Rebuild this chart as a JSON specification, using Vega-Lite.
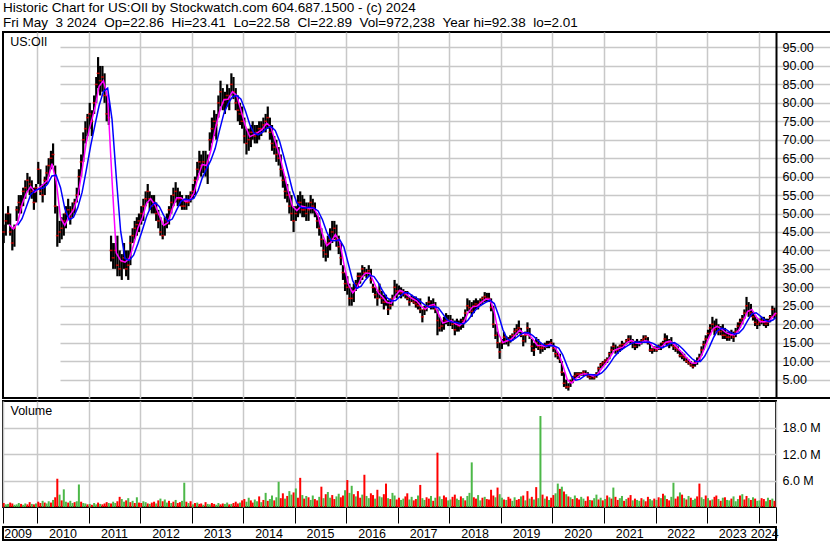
{
  "$schema": "https://vega.github.io/schema/vega-lite/v6.json",
  "background": "white",
  "padding": {"left": 1, "top": 0, "right": 0, "bottom": 0},
  "spacing": 1,
  "config": {
    "font": "Liberation Sans",
    "view": {"stroke": "black", "strokeWidth": 2},
    "axis": {"gridColor": "#c8c8c8", "gridWidth": 1.5, "labelFont": "Liberation Sans", "labelFontSize": 12.5, "labelColor": "black", "title": null, "labelOverlap": false},
    "title": {"font": "Liberation Sans", "fontWeight": "normal", "color": "black"}
  },
  "title": {
    "text": ["Historic Chart for US:OIl by Stockwatch.com 604.687.1500 - (c) 2024", "Fri May\u00a0\u00a03 2024\u00a0\u00a0Op=22.86\u00a0\u00a0Hi=23.41\u00a0\u00a0Lo=22.58\u00a0\u00a0Cl=22.89\u00a0\u00a0Vol=972,238\u00a0\u00a0Year hi=92.38\u00a0\u00a0lo=2.01"],
    "anchor": "start", "fontSize": 13.5, "lineHeight": 15, "offset": 2, "frame": "group"
  },
  "datasets": {
    "p": [
      {"d":"2009-05-08","h":47,"l":42,"c":45},{"d":"2009-05-23","h":50,"l":44,"c":48},
      {"d":"2009-06-08","h":52,"l":47,"c":50},{"d":"2009-06-23","h":50,"l":44,"c":45},
      {"d":"2009-07-08","h":46,"l":40,"c":42},{"d":"2009-07-23","h":47,"l":41,"c":46},
      {"d":"2009-08-08","h":52,"l":48,"c":51},{"d":"2009-08-23","h":55,"l":50,"c":53},
      {"d":"2009-09-08","h":55,"l":50,"c":52},{"d":"2009-09-23","h":57,"l":52,"c":56},
      {"d":"2009-10-08","h":59,"l":54,"c":57},{"d":"2009-10-23","h":61,"l":56,"c":59},
      {"d":"2009-11-08","h":60,"l":55,"c":58},{"d":"2009-11-23","h":59,"l":54,"c":56},
      {"d":"2009-12-08","h":57,"l":51,"c":53},{"d":"2009-12-23","h":58,"l":53,"c":57},
      {"d":"2010-01-08","h":64,"l":58,"c":62},{"d":"2010-01-23","h":62,"l":55,"c":56},
      {"d":"2010-02-08","h":58,"l":53,"c":55},{"d":"2010-02-23","h":60,"l":55,"c":59},
      {"d":"2010-03-08","h":63,"l":58,"c":61},{"d":"2010-03-23","h":65,"l":60,"c":63},
      {"d":"2010-04-08","h":67,"l":62,"c":65},{"d":"2010-04-23","h":69,"l":63,"c":66},
      {"d":"2010-05-08","h":63,"l":50,"c":52},{"d":"2010-05-23","h":52,"l":41,"c":44},
      {"d":"2010-06-08","h":48,"l":42,"c":45},{"d":"2010-06-23","h":49,"l":43,"c":46},
      {"d":"2010-07-08","h":50,"l":44,"c":48},{"d":"2010-07-23","h":52,"l":46,"c":50},
      {"d":"2010-08-08","h":54,"l":49,"c":51},{"d":"2010-08-23","h":52,"l":47,"c":49},
      {"d":"2010-09-08","h":53,"l":49,"c":51},{"d":"2010-09-23","h":54,"l":50,"c":53},
      {"d":"2010-10-08","h":57,"l":53,"c":55},{"d":"2010-10-23","h":62,"l":55,"c":60},
      {"d":"2010-11-08","h":66,"l":60,"c":64},{"d":"2010-11-23","h":72,"l":64,"c":70},
      {"d":"2010-12-08","h":75,"l":69,"c":73},{"d":"2010-12-23","h":77,"l":71,"c":76},
      {"d":"2011-01-08","h":80,"l":73,"c":77},{"d":"2011-01-23","h":78,"l":71,"c":75},
      {"d":"2011-02-08","h":82,"l":77,"c":80},{"d":"2011-02-23","h":87,"l":80,"c":85},
      {"d":"2011-03-08","h":92.4,"l":84,"c":88},{"d":"2011-03-23","h":90,"l":82,"c":86},
      {"d":"2011-04-08","h":90,"l":83,"c":87},{"d":"2011-04-23","h":88,"l":80,"c":82},
      {"d":"2011-05-08","h":82,"l":75,"c":77},{"d":"2011-05-23","h":80,"l":74,"c":76},
      {"d":"2011-06-08","h":44,"l":37,"c":40},{"d":"2011-06-23","h":42,"l":35,"c":38},
      {"d":"2011-07-08","h":42,"l":35,"c":40},{"d":"2011-07-23","h":44,"l":33,"c":36},
      {"d":"2011-08-08","h":40,"l":33,"c":35},{"d":"2011-08-23","h":39,"l":32,"c":37},
      {"d":"2011-09-08","h":42,"l":35,"c":38},{"d":"2011-09-23","h":40,"l":33,"c":35},
      {"d":"2011-10-08","h":40,"l":32,"c":36},{"d":"2011-10-23","h":44,"l":36,"c":42},
      {"d":"2011-11-08","h":46,"l":42,"c":44},{"d":"2011-11-23","h":48,"l":43,"c":46},
      {"d":"2011-12-08","h":49,"l":44,"c":47},{"d":"2011-12-23","h":50,"l":45,"c":48},
      {"d":"2012-01-08","h":52,"l":47,"c":50},{"d":"2012-01-23","h":54,"l":48,"c":52},
      {"d":"2012-02-08","h":56,"l":52,"c":54},{"d":"2012-02-23","h":58,"l":53,"c":56},
      {"d":"2012-03-08","h":56,"l":51,"c":54},{"d":"2012-03-23","h":55,"l":50,"c":52},
      {"d":"2012-04-08","h":55,"l":50,"c":53},{"d":"2012-04-23","h":53,"l":48,"c":50},
      {"d":"2012-05-08","h":51,"l":46,"c":48},{"d":"2012-05-23","h":49,"l":44,"c":45},
      {"d":"2012-06-08","h":47,"l":43,"c":44},{"d":"2012-06-23","h":49,"l":44,"c":47},
      {"d":"2012-07-08","h":50,"l":46,"c":48},{"d":"2012-07-23","h":52,"l":47,"c":51},
      {"d":"2012-08-08","h":55,"l":50,"c":53},{"d":"2012-08-23","h":57,"l":52,"c":55},
      {"d":"2012-09-08","h":58.5,"l":53,"c":56},{"d":"2012-09-23","h":57,"l":52,"c":54},
      {"d":"2012-10-08","h":56,"l":52,"c":54},{"d":"2012-10-23","h":55,"l":51,"c":52},
      {"d":"2012-11-08","h":54,"l":51,"c":52},{"d":"2012-11-23","h":55,"l":51,"c":53},
      {"d":"2012-12-08","h":55,"l":52,"c":53},{"d":"2012-12-23","h":56,"l":53,"c":55},
      {"d":"2013-01-08","h":58,"l":54,"c":56},{"d":"2013-01-23","h":60,"l":55,"c":59},
      {"d":"2013-02-08","h":64,"l":59,"c":62},{"d":"2013-02-23","h":67,"l":61,"c":64},
      {"d":"2013-03-08","h":66,"l":60,"c":63},{"d":"2013-03-23","h":67,"l":61,"c":64},
      {"d":"2013-04-08","h":67,"l":60,"c":62},{"d":"2013-04-23","h":66,"l":58,"c":64},
      {"d":"2013-05-08","h":72,"l":67,"c":70},{"d":"2013-05-23","h":76,"l":69,"c":73},
      {"d":"2013-06-08","h":78,"l":71,"c":75},{"d":"2013-06-23","h":77,"l":70,"c":74},
      {"d":"2013-07-08","h":82,"l":76,"c":80},{"d":"2013-07-23","h":86,"l":79,"c":83},
      {"d":"2013-08-08","h":84,"l":78,"c":80},{"d":"2013-08-23","h":83,"l":77,"c":81},
      {"d":"2013-09-08","h":85,"l":79,"c":82},{"d":"2013-09-23","h":84,"l":78,"c":81},
      {"d":"2013-10-08","h":88,"l":82,"c":85},{"d":"2013-10-23","h":87,"l":81,"c":83},
      {"d":"2013-11-08","h":84,"l":78,"c":80},{"d":"2013-11-23","h":82,"l":75,"c":78},
      {"d":"2013-12-08","h":80,"l":74,"c":77},{"d":"2013-12-23","h":79,"l":73,"c":75},
      {"d":"2014-01-08","h":76,"l":69,"c":71},{"d":"2014-01-23","h":73,"l":66,"c":69},
      {"d":"2014-02-08","h":73,"l":67,"c":70},{"d":"2014-02-23","h":74,"l":68,"c":72},
      {"d":"2014-03-08","h":75,"l":70,"c":72},{"d":"2014-03-23","h":74,"l":69,"c":71},
      {"d":"2014-04-08","h":74,"l":69,"c":72},{"d":"2014-04-23","h":75,"l":70,"c":73},
      {"d":"2014-05-08","h":75,"l":71,"c":73},{"d":"2014-05-23","h":76,"l":72,"c":74},
      {"d":"2014-06-08","h":77,"l":72,"c":75},{"d":"2014-06-23","h":79,"l":73,"c":76},
      {"d":"2014-07-08","h":76,"l":70,"c":72},{"d":"2014-07-23","h":74,"l":67,"c":69},
      {"d":"2014-08-08","h":71,"l":66,"c":68},{"d":"2014-08-23","h":70,"l":64,"c":66},
      {"d":"2014-09-08","h":68,"l":63,"c":65},{"d":"2014-09-23","h":66,"l":60,"c":62},
      {"d":"2014-10-08","h":62,"l":57,"c":59},{"d":"2014-10-23","h":60,"l":54,"c":56},
      {"d":"2014-11-08","h":58,"l":53,"c":55},{"d":"2014-11-23","h":56,"l":50,"c":52},
      {"d":"2014-12-08","h":55,"l":48,"c":50},{"d":"2014-12-23","h":52,"l":45,"c":48},
      {"d":"2015-01-08","h":52,"l":48,"c":50},{"d":"2015-01-23","h":55,"l":49,"c":53},
      {"d":"2015-02-08","h":56,"l":50,"c":53},{"d":"2015-02-23","h":55,"l":49,"c":51},
      {"d":"2015-03-08","h":54,"l":49,"c":51},{"d":"2015-03-23","h":53,"l":48,"c":50},
      {"d":"2015-04-08","h":53,"l":48,"c":51},{"d":"2015-04-23","h":55,"l":50,"c":53},
      {"d":"2015-05-08","h":54,"l":50,"c":52},{"d":"2015-05-23","h":53,"l":49,"c":51},
      {"d":"2015-06-08","h":50,"l":46,"c":48},{"d":"2015-06-23","h":49,"l":44,"c":46},
      {"d":"2015-07-08","h":46,"l":41,"c":43},{"d":"2015-07-23","h":43,"l":38,"c":40},
      {"d":"2015-08-08","h":42,"l":37,"c":39},{"d":"2015-08-23","h":44,"l":38,"c":42},
      {"d":"2015-09-08","h":46,"l":40,"c":43},{"d":"2015-09-23","h":48,"l":42,"c":45},
      {"d":"2015-10-08","h":48,"l":43,"c":46},{"d":"2015-10-23","h":47,"l":41,"c":43},
      {"d":"2015-11-08","h":44,"l":39,"c":41},{"d":"2015-11-23","h":42,"l":36,"c":38},
      {"d":"2015-12-08","h":36,"l":32,"c":34},{"d":"2015-12-23","h":34,"l":29,"c":31},
      {"d":"2016-01-08","h":33,"l":28,"c":30},{"d":"2016-01-23","h":31,"l":25,"c":27},
      {"d":"2016-02-08","h":30,"l":25,"c":27},{"d":"2016-02-23","h":31,"l":26,"c":29},
      {"d":"2016-03-08","h":32,"l":29,"c":31},{"d":"2016-03-23","h":34,"l":30,"c":33},
      {"d":"2016-04-08","h":34,"l":31,"c":33},{"d":"2016-04-23","h":36,"l":32,"c":35},
      {"d":"2016-05-08","h":35.5,"l":33,"c":34},{"d":"2016-05-23","h":35,"l":32.5,"c":34},
      {"d":"2016-06-08","h":36,"l":33,"c":34.5},{"d":"2016-06-23","h":35,"l":31,"c":32},
      {"d":"2016-07-08","h":31,"l":28.5,"c":30},{"d":"2016-07-23","h":30,"l":27,"c":28},
      {"d":"2016-08-08","h":29,"l":25,"c":27},{"d":"2016-08-23","h":31,"l":27,"c":29},
      {"d":"2016-09-08","h":29,"l":25.5,"c":27},{"d":"2016-09-23","h":28,"l":24,"c":26},
      {"d":"2016-10-08","h":28,"l":25,"c":26},{"d":"2016-10-23","h":26.5,"l":22.5,"c":24},
      {"d":"2016-11-08","h":27,"l":24,"c":25},{"d":"2016-11-23","h":28,"l":25,"c":27},
      {"d":"2016-12-08","h":32,"l":27.5,"c":30},{"d":"2016-12-23","h":31,"l":27,"c":29},
      {"d":"2017-01-08","h":30.5,"l":28,"c":29},{"d":"2017-01-23","h":30,"l":27,"c":28.5},
      {"d":"2017-02-08","h":29.5,"l":27.5,"c":28.5},{"d":"2017-02-23","h":29,"l":27,"c":28},
      {"d":"2017-03-08","h":29,"l":26.5,"c":27},{"d":"2017-03-23","h":27.5,"l":25,"c":26},
      {"d":"2017-04-08","h":28,"l":26,"c":27},{"d":"2017-04-23","h":27.5,"l":25.5,"c":26},
      {"d":"2017-05-08","h":27.5,"l":24.5,"c":25.5},{"d":"2017-05-23","h":27,"l":24,"c":25},
      {"d":"2017-06-08","h":27,"l":23,"c":24},{"d":"2017-06-23","h":24,"l":20.5,"c":22},
      {"d":"2017-07-08","h":25,"l":22.5,"c":24},{"d":"2017-07-23","h":26,"l":23.5,"c":25},
      {"d":"2017-08-08","h":27.5,"l":24.5,"c":26},{"d":"2017-08-23","h":26.5,"l":24,"c":25},
      {"d":"2017-09-08","h":27,"l":24,"c":25},{"d":"2017-09-23","h":26,"l":23,"c":24},
      {"d":"2017-10-08","h":24,"l":17,"c":21},{"d":"2017-10-23","h":22,"l":18,"c":19},
      {"d":"2017-11-08","h":21,"l":18,"c":19.5},{"d":"2017-11-23","h":22,"l":18.5,"c":20.5},
      {"d":"2017-12-08","h":23,"l":20,"c":21},{"d":"2017-12-23","h":22.5,"l":19.5,"c":21},
      {"d":"2018-01-08","h":22.5,"l":19.5,"c":21},{"d":"2018-01-23","h":21.5,"l":18.7,"c":20},
      {"d":"2018-02-08","h":21,"l":17,"c":18.5},{"d":"2018-02-23","h":21.5,"l":18,"c":20},
      {"d":"2018-03-08","h":21,"l":18,"c":19.5},{"d":"2018-03-23","h":21.5,"l":18.5,"c":20},
      {"d":"2018-04-08","h":22,"l":19,"c":21},{"d":"2018-04-23","h":24,"l":20.5,"c":23},
      {"d":"2018-05-08","h":27,"l":23.5,"c":25},{"d":"2018-05-23","h":26.5,"l":23,"c":24.5},
      {"d":"2018-06-08","h":26,"l":22,"c":23.5},{"d":"2018-06-23","h":26.5,"l":23,"c":25},
      {"d":"2018-07-08","h":27,"l":24,"c":25.5},{"d":"2018-07-23","h":26.5,"l":24,"c":25},
      {"d":"2018-08-08","h":27,"l":25,"c":26},{"d":"2018-08-23","h":27.5,"l":25.5,"c":27},
      {"d":"2018-09-08","h":28.7,"l":26,"c":27.5},{"d":"2018-09-23","h":28.5,"l":26,"c":27},
      {"d":"2018-10-08","h":28.5,"l":26,"c":27},{"d":"2018-10-23","h":27,"l":23.5,"c":24.5},
      {"d":"2018-11-08","h":25,"l":19,"c":20},{"d":"2018-11-23","h":20,"l":16,"c":17},
      {"d":"2018-12-08","h":18,"l":13.5,"c":15},{"d":"2018-12-23","h":15,"l":10.6,"c":12.5},
      {"d":"2019-01-08","h":16,"l":13.3,"c":15},{"d":"2019-01-23","h":17.9,"l":14.5,"c":16.5},
      {"d":"2019-02-08","h":16.8,"l":14.5,"c":15.5},{"d":"2019-02-23","h":16.5,"l":14,"c":15.5},
      {"d":"2019-03-08","h":17,"l":15,"c":16},{"d":"2019-03-23","h":17.5,"l":15.5,"c":17},
      {"d":"2019-04-08","h":19,"l":16,"c":18},{"d":"2019-04-23","h":20,"l":17,"c":18.5},
      {"d":"2019-05-08","h":21,"l":17.5,"c":19},{"d":"2019-05-23","h":19,"l":16.5,"c":17},
      {"d":"2019-06-08","h":17,"l":14,"c":15.5},{"d":"2019-06-23","h":18,"l":15,"c":17},
      {"d":"2019-07-08","h":20.5,"l":17,"c":19},{"d":"2019-07-23","h":19,"l":16,"c":17},
      {"d":"2019-08-08","h":16,"l":12.5,"c":14},{"d":"2019-08-23","h":15,"l":11.4,"c":13},
      {"d":"2019-09-08","h":16.5,"l":13.5,"c":15},{"d":"2019-09-23","h":16,"l":13,"c":14},
      {"d":"2019-10-08","h":15,"l":12,"c":13.5},{"d":"2019-10-23","h":14.5,"l":12.5,"c":13.5},
      {"d":"2019-11-08","h":15,"l":13,"c":14},{"d":"2019-11-23","h":15.5,"l":13.5,"c":14.5},
      {"d":"2019-12-08","h":15.5,"l":13.5,"c":14.5},{"d":"2019-12-23","h":16,"l":14,"c":15},
      {"d":"2020-01-08","h":15,"l":12.5,"c":13.5},{"d":"2020-01-23","h":13.5,"l":11,"c":12},
      {"d":"2020-02-08","h":12.5,"l":10.5,"c":11.5},{"d":"2020-02-23","h":12,"l":9.5,"c":10.5},
      {"d":"2020-03-08","h":10,"l":6,"c":7},{"d":"2020-03-23","h":7,"l":3,"c":4},
      {"d":"2020-04-08","h":5,"l":2.5,"c":3},{"d":"2020-04-23","h":4,"l":2.01,"c":3},
      {"d":"2020-05-08","h":5,"l":3,"c":4.5},{"d":"2020-05-23","h":6,"l":4,"c":5.5},
      {"d":"2020-06-08","h":7,"l":5,"c":6},{"d":"2020-06-23","h":7,"l":5.5,"c":6.5},
      {"d":"2020-07-08","h":7,"l":5.5,"c":6.5},{"d":"2020-07-23","h":7,"l":6,"c":6.5},
      {"d":"2020-08-08","h":7.5,"l":6,"c":7},{"d":"2020-08-23","h":7.5,"l":6,"c":6.5},
      {"d":"2020-09-08","h":7,"l":5.5,"c":6},{"d":"2020-09-23","h":6.5,"l":5,"c":5.5},
      {"d":"2020-10-08","h":6.5,"l":5,"c":6},{"d":"2020-10-23","h":6.5,"l":5,"c":5.5},
      {"d":"2020-11-08","h":7,"l":5.5,"c":6.5},{"d":"2020-11-23","h":8.5,"l":6.5,"c":8},
      {"d":"2020-12-08","h":9.5,"l":8,"c":9},{"d":"2020-12-23","h":10,"l":8.5,"c":9.5},
      {"d":"2021-01-08","h":10.5,"l":9,"c":10},{"d":"2021-01-23","h":11,"l":9.5,"c":10.5},
      {"d":"2021-02-08","h":12.5,"l":10.5,"c":12},{"d":"2021-02-23","h":14,"l":12,"c":13},
      {"d":"2021-03-08","h":15,"l":13,"c":14},{"d":"2021-03-23","h":14.5,"l":12,"c":13},
      {"d":"2021-04-08","h":14,"l":12,"c":13},{"d":"2021-04-23","h":14.5,"l":12.5,"c":14},
      {"d":"2021-05-08","h":15.5,"l":13,"c":14.5},{"d":"2021-05-23","h":15,"l":13.5,"c":14.5},
      {"d":"2021-06-08","h":16,"l":14.5,"c":15.5},{"d":"2021-06-23","h":17,"l":15,"c":16},
      {"d":"2021-07-08","h":17,"l":14.5,"c":15.5},{"d":"2021-07-23","h":16,"l":13.5,"c":15},
      {"d":"2021-08-08","h":15.5,"l":13,"c":14},{"d":"2021-08-23","h":16,"l":13.5,"c":15},
      {"d":"2021-09-08","h":15.5,"l":14,"c":15},{"d":"2021-09-23","h":16,"l":14.5,"c":15.5},
      {"d":"2021-10-08","h":17,"l":15,"c":16},{"d":"2021-10-23","h":17,"l":15.5,"c":16.5},
      {"d":"2021-11-08","h":16.5,"l":14.5,"c":15},{"d":"2021-11-23","h":15,"l":12.5,"c":13},
      {"d":"2021-12-08","h":13.5,"l":12,"c":13},{"d":"2021-12-23","h":14,"l":12.5,"c":13.5},
      {"d":"2022-01-08","h":14,"l":12.5,"c":13},{"d":"2022-01-23","h":14.5,"l":13,"c":14},
      {"d":"2022-02-08","h":15,"l":13,"c":14},{"d":"2022-02-23","h":15.5,"l":13.5,"c":15},
      {"d":"2022-03-08","h":17.5,"l":14.5,"c":16},{"d":"2022-03-23","h":17,"l":14,"c":15},
      {"d":"2022-04-08","h":16,"l":13.5,"c":15},{"d":"2022-04-23","h":16.5,"l":14,"c":15},
      {"d":"2022-05-08","h":15,"l":13,"c":14},{"d":"2022-05-23","h":14.5,"l":12.5,"c":13.5},
      {"d":"2022-06-08","h":14,"l":12,"c":13},{"d":"2022-06-23","h":13,"l":11,"c":11.5},
      {"d":"2022-07-08","h":12.5,"l":10.5,"c":11.5},{"d":"2022-07-23","h":12,"l":10,"c":11},
      {"d":"2022-08-08","h":11,"l":9.5,"c":10},{"d":"2022-08-23","h":10.5,"l":9,"c":9.5},
      {"d":"2022-09-08","h":10,"l":8.5,"c":9},{"d":"2022-09-23","h":9.5,"l":8,"c":8.5},
      {"d":"2022-10-08","h":10,"l":8.5,"c":9.5},{"d":"2022-10-23","h":11,"l":9,"c":10},
      {"d":"2022-11-08","h":12,"l":10,"c":11},{"d":"2022-11-23","h":14,"l":11.5,"c":13},
      {"d":"2022-12-08","h":15.5,"l":13,"c":14.5},{"d":"2022-12-23","h":17,"l":14.5,"c":16},
      {"d":"2023-01-08","h":18.5,"l":16,"c":17.5},{"d":"2023-01-23","h":20,"l":17,"c":19},
      {"d":"2023-02-08","h":22,"l":18.5,"c":20},{"d":"2023-02-23","h":21,"l":17,"c":18.5},
      {"d":"2023-03-08","h":21.5,"l":18,"c":19.5},{"d":"2023-03-23","h":20,"l":17,"c":18},
      {"d":"2023-04-08","h":19.5,"l":17,"c":18},{"d":"2023-04-23","h":20,"l":16,"c":17},
      {"d":"2023-05-08","h":19,"l":16,"c":17},{"d":"2023-05-23","h":18,"l":15.5,"c":16.5},
      {"d":"2023-06-08","h":18,"l":15.5,"c":16.5},{"d":"2023-06-23","h":18.5,"l":16,"c":17},
      {"d":"2023-07-08","h":18,"l":15.2,"c":16.5},{"d":"2023-07-23","h":19,"l":16.5,"c":18},
      {"d":"2023-08-08","h":20.5,"l":18,"c":19.5},{"d":"2023-08-23","h":21.5,"l":19,"c":20.5},
      {"d":"2023-09-08","h":22.5,"l":20,"c":21.5},{"d":"2023-09-23","h":24,"l":21.5,"c":23},
      {"d":"2023-10-08","h":27.4,"l":23,"c":25},{"d":"2023-10-23","h":26,"l":22,"c":23.5},
      {"d":"2023-11-08","h":25.5,"l":22,"c":23},{"d":"2023-11-23","h":23.5,"l":21,"c":22},
      {"d":"2023-12-08","h":22.5,"l":19.5,"c":20.5},{"d":"2023-12-23","h":21.5,"l":18.7,"c":20},
      {"d":"2024-01-08","h":21.5,"l":19.5,"c":20.5},{"d":"2024-01-23","h":22,"l":20,"c":21},
      {"d":"2024-02-08","h":22,"l":19.5,"c":20.5},{"d":"2024-02-23","h":21.5,"l":19,"c":20},
      {"d":"2024-03-08","h":21.5,"l":19.5,"c":20.5},{"d":"2024-03-23","h":22.5,"l":20.5,"c":22},
      {"d":"2024-04-08","h":25,"l":22,"c":24},{"d":"2024-04-23","h":24.5,"l":21.5,"c":22.5},
      {"d":"2024-05-02","h":23.41,"l":22.58,"c":22.89}
    ],
    "m": [
      {"d":"2009-06-15","a":47,"b":null},{"d":"2009-07-15","a":45.8,"b":null},{"d":"2009-08-15","a":47.5,"b":46.8},
      {"d":"2009-09-15","a":52.5,"b":48.6},{"d":"2009-10-15","a":55.5,"b":51.8},{"d":"2009-11-15","a":57.3,"b":55.1},
      {"d":"2009-12-15","a":55.8,"b":56.2},{"d":"2010-01-15","a":57,"b":56.7},{"d":"2010-02-15","a":58,"b":56.9},
      {"d":"2010-03-15","a":59,"b":58},{"d":"2010-04-15","a":63.5,"b":60.2},{"d":"2010-05-15","a":58.8,"b":60.4},
      {"d":"2010-06-15","a":48.8,"b":57},{"d":"2010-07-15","a":46.8,"b":51.4},{"d":"2010-08-15","a":49.3,"b":48.3},
      {"d":"2010-09-15","a":51,"b":49},{"d":"2010-10-15","a":54.5,"b":51.6},{"d":"2010-11-15","a":61.8,"b":55.8},
      {"d":"2010-12-15","a":69.5,"b":61.9},{"d":"2011-01-15","a":74.3,"b":68.5},{"d":"2011-02-15","a":78.8,"b":74.2},
      {"d":"2011-03-15","a":84.5,"b":79.2},{"d":"2011-04-15","a":86,"b":83.1},{"d":"2011-05-15","a":81.5,"b":84},
      {"d":"2011-06-15","a":59,"b":75.5},{"d":"2011-07-15","a":39.3,"b":59.9},{"d":"2011-08-15","a":37.3,"b":45.2},
      {"d":"2011-09-15","a":36.8,"b":37.8},{"d":"2011-10-15","a":37.8,"b":37.3},{"d":"2011-11-15","a":41.5,"b":38.7},
      {"d":"2011-12-15","a":46,"b":41.8},{"d":"2012-01-15","a":48.8,"b":45.4},{"d":"2012-02-15","a":52.8,"b":49.2},
      {"d":"2012-03-15","a":54,"b":51.8},{"d":"2012-04-15","a":52.3,"b":53},{"d":"2012-05-15","a":49.5,"b":51.9},
      {"d":"2012-06-15","a":46.8,"b":49.5},{"d":"2012-07-15","a":47.5,"b":47.9},{"d":"2012-08-15","a":51.3,"b":48.5},
      {"d":"2012-09-15","a":54.3,"b":51},{"d":"2012-10-15","a":54.3,"b":53.3},{"d":"2012-11-15","a":53.3,"b":53.9},
      {"d":"2012-12-15","a":53.5,"b":53.7},{"d":"2013-01-15","a":55.5,"b":54.1},{"d":"2013-02-15","a":60,"b":56.3},
      {"d":"2013-03-15","a":63.3,"b":59.6},{"d":"2013-04-15","a":63,"b":62.1},{"d":"2013-05-15","a":67,"b":64.4},
      {"d":"2013-06-15","a":72.8,"b":67.6},{"d":"2013-07-15","a":77.5,"b":72.4},{"d":"2013-08-15","a":80.8,"b":77},
      {"d":"2013-09-15","a":81,"b":79.8},{"d":"2013-10-15","a":83,"b":81.6},{"d":"2013-11-15","a":82,"b":82},
      {"d":"2013-12-15","a":78,"b":81},{"d":"2014-01-15","a":73.8,"b":77.9},{"d":"2014-02-15","a":70.8,"b":74.2},
      {"d":"2014-03-15","a":71.3,"b":71.9},{"d":"2014-04-15","a":72,"b":71.3},{"d":"2014-05-15","a":72.8,"b":72},
      {"d":"2014-06-15","a":74.5,"b":73.1},{"d":"2014-07-15","a":73.5,"b":73.6},{"d":"2014-08-15","a":69.5,"b":72.5},
      {"d":"2014-09-15","a":65.8,"b":69.6},{"d":"2014-10-15","a":61,"b":65.4},{"d":"2014-11-15","a":56,"b":60.9},
      {"d":"2014-12-15","a":52,"b":56.3},{"d":"2015-01-15","a":50.8,"b":52.9},{"d":"2015-02-15","a":52,"b":51.6},
      {"d":"2015-03-15","a":51.8,"b":51.5},{"d":"2015-04-15","a":51.3,"b":51.7},{"d":"2015-05-15","a":51.5,"b":51.5},
      {"d":"2015-06-15","a":49.3,"b":50.7},{"d":"2015-07-15","a":44.5,"b":48.4},{"d":"2015-08-15","a":41.3,"b":45},
      {"d":"2015-09-15","a":42.3,"b":42.7},{"d":"2015-10-15","a":44.3,"b":42.6},{"d":"2015-11-15","a":42.3,"b":42.9},
      {"d":"2015-12-15","a":36.3,"b":40.9},{"d":"2016-01-15","a":30.8,"b":36.4},{"d":"2016-02-15","a":28.5,"b":31.8},
      {"d":"2016-03-15","a":29.8,"b":29.7},{"d":"2016-04-15","a":32.5,"b":30.3},{"d":"2016-05-15","a":33.8,"b":32},
      {"d":"2016-06-15","a":33.8,"b":33.3},{"d":"2016-07-15","a":31.3,"b":32.9},{"d":"2016-08-15","a":28.5,"b":31.2},
      {"d":"2016-09-15","a":27.3,"b":29},{"d":"2016-10-15","a":25.9,"b":27.2},{"d":"2016-11-15","a":25.7,"b":26.3},
      {"d":"2016-12-15","a":27.8,"b":26.4},{"d":"2017-01-15","a":29.2,"b":27.5},{"d":"2017-02-15","a":28.6,"b":28.5},
      {"d":"2017-03-15","a":27.7,"b":28.5},{"d":"2017-04-15","a":26.9,"b":27.7},{"d":"2017-05-15","a":26.3,"b":27},
      {"d":"2017-06-15","a":24.8,"b":26},{"d":"2017-07-15","a":24.1,"b":25.1},{"d":"2017-08-15","a":25.1,"b":24.6},
      {"d":"2017-09-15","a":25.4,"b":24.8},{"d":"2017-10-15","a":22.8,"b":24.4},{"d":"2017-11-15","a":20.3,"b":22.8},
      {"d":"2017-12-15","a":20.7,"b":21.2},{"d":"2018-01-15","a":21,"b":20.6},{"d":"2018-02-15","a":20,"b":20.5},
      {"d":"2018-03-15","a":19.6,"b":20.2},{"d":"2018-04-15","a":20.7,"b":20.1},{"d":"2018-05-15","a":23.3,"b":21.2},
      {"d":"2018-06-15","a":24.7,"b":22.9},{"d":"2018-07-15","a":24.9,"b":24.3},{"d":"2018-08-15","a":25.9,"b":25.2},
      {"d":"2018-09-15","a":26.8,"b":25.9},{"d":"2018-10-15","a":26.7,"b":26.5},{"d":"2018-11-15","a":23.3,"b":25.6},
      {"d":"2018-12-15","a":17.4,"b":22.4},{"d":"2019-01-15","a":15,"b":18.5},{"d":"2019-02-15","a":15.5,"b":16},
      {"d":"2019-03-15","a":15.9,"b":15.4},{"d":"2019-04-15","a":17.2,"b":16.2},{"d":"2019-05-15","a":18.4,"b":17.1},
      {"d":"2019-06-15","a":17.4,"b":17.7},{"d":"2019-07-15","a":17.2,"b":17.7},{"d":"2019-08-15","a":16,"b":16.9},
      {"d":"2019-09-15","a":14.3,"b":15.8},{"d":"2019-10-15","a":14.2,"b":14.8},{"d":"2019-11-15","a":13.9,"b":14.1},
      {"d":"2019-12-15","a":14.6,"b":14.2},{"d":"2020-01-15","a":13.9,"b":14.1},{"d":"2020-02-15","a":12,"b":13.5},
      {"d":"2020-03-15","a":8.8,"b":11.6},{"d":"2020-04-15","a":5,"b":8.6},{"d":"2020-05-15","a":4,"b":5.9},
      {"d":"2020-06-15","a":5.3,"b":4.8},{"d":"2020-07-15","a":6.2,"b":5.1},{"d":"2020-08-15","a":6.6,"b":6},
      {"d":"2020-09-15","a":6.4,"b":6.4},{"d":"2020-10-15","a":5.9,"b":6.3},{"d":"2020-11-15","a":6.4,"b":6.2},
      {"d":"2020-12-15","a":8,"b":6.8},{"d":"2021-01-15","a":9.5,"b":8},{"d":"2021-02-15","a":11.2,"b":9.6},
      {"d":"2021-03-15","a":12.9,"b":11.2},{"d":"2021-04-15","a":13.4,"b":12.5},{"d":"2021-05-15","a":13.8,"b":13.4},
      {"d":"2021-06-15","a":15.1,"b":14.1},{"d":"2021-07-15","a":15.6,"b":14.8},{"d":"2021-08-15","a":14.9,"b":15.2},
      {"d":"2021-09-15","a":14.8,"b":15.1},{"d":"2021-10-15","a":15.5,"b":15.1},{"d":"2021-11-15","a":15.3,"b":15.2},
      {"d":"2021-12-15","a":13.8,"b":14.8},{"d":"2022-01-15","a":13.3,"b":14.1},{"d":"2022-02-15","a":13.9,"b":13.6},
      {"d":"2022-03-15","a":15.1,"b":14.1},{"d":"2022-04-15","a":15.4,"b":14.8},{"d":"2022-05-15","a":14.4,"b":15},
      {"d":"2022-06-15","a":13.2,"b":14.3},{"d":"2022-07-15","a":11.9,"b":13.2},{"d":"2022-08-15","a":10.7,"b":11.9},
      {"d":"2022-09-15","a":9.5,"b":10.7},{"d":"2022-10-15","a":9.4,"b":9.9},{"d":"2022-11-15","a":10.9,"b":9.9},
      {"d":"2022-12-15","a":13.5,"b":11.3},{"d":"2023-01-15","a":16.5,"b":13.6},{"d":"2023-02-15","a":18.8,"b":16.3},
      {"d":"2023-03-15","a":19.4,"b":18.2},{"d":"2023-04-15","a":18.7,"b":18.9},{"d":"2023-05-15","a":17.7,"b":18.6},
      {"d":"2023-06-15","a":17.2,"b":17.8},{"d":"2023-07-15","a":17.1,"b":17.3},{"d":"2023-08-15","a":18.5,"b":17.6},
      {"d":"2023-09-15","a":20.9,"b":18.8},{"d":"2023-10-15","a":23.4,"b":20.9},{"d":"2023-11-15","a":24,"b":22.8},
      {"d":"2023-12-15","a":22,"b":23.1},{"d":"2024-01-15","a":20.7,"b":22.2},{"d":"2024-02-15","a":20.7,"b":21.1},
      {"d":"2024-03-15","a":20.8,"b":20.7},{"d":"2024-04-15","a":22.2,"b":21.2},{"d":"2024-05-02","a":23.1,"b":21.8}
    ],
    "v": [
      {"d":"2009-05-08","v":0.9,"u":"r"},{"d":"2009-05-23","v":0.6,"u":"g"},
      {"d":"2009-06-08","v":0.7,"u":"g"},{"d":"2009-06-23","v":1.0,"u":"r"},
      {"d":"2009-07-08","v":0.8,"u":"r"},{"d":"2009-07-23","v":0.5,"u":"g"},
      {"d":"2009-08-08","v":0.6,"u":"g"},{"d":"2009-08-23","v":0.9,"u":"g"},
      {"d":"2009-09-08","v":0.7,"u":"r"},{"d":"2009-09-23","v":0.5,"u":"g"},
      {"d":"2009-10-08","v":0.8,"u":"g"},{"d":"2009-10-23","v":0.6,"u":"r"},
      {"d":"2009-11-08","v":1.1,"u":"r"},{"d":"2009-11-23","v":0.7,"u":"g"},
      {"d":"2009-12-08","v":0.6,"u":"r"},{"d":"2009-12-23","v":0.8,"u":"g"},
      {"d":"2010-01-08","v":1.2,"u":"r"},{"d":"2010-01-23","v":0.9,"u":"r"},
      {"d":"2010-02-08","v":1.4,"u":"g"},{"d":"2010-02-23","v":1.0,"u":"r"},
      {"d":"2010-03-08","v":0.8,"u":"g"},{"d":"2010-03-23","v":1.3,"u":"g"},
      {"d":"2010-04-08","v":1.0,"u":"r"},{"d":"2010-04-23","v":1.6,"u":"g"},
      {"d":"2010-05-08","v":2.2,"u":"r"},{"d":"2010-05-23","v":6.4,"u":"r"},
      {"d":"2010-06-08","v":2.8,"u":"g"},{"d":"2010-06-23","v":1.5,"u":"r"},
      {"d":"2010-07-08","v":4.0,"u":"g"},{"d":"2010-07-23","v":1.2,"u":"g"},
      {"d":"2010-08-08","v":1.0,"u":"r"},{"d":"2010-08-23","v":1.4,"u":"g"},
      {"d":"2010-09-08","v":0.9,"u":"g"},{"d":"2010-09-23","v":1.1,"u":"r"},
      {"d":"2010-10-08","v":1.3,"u":"g"},{"d":"2010-10-23","v":5.1,"u":"g"},
      {"d":"2010-11-08","v":1.2,"u":"r"},{"d":"2010-11-23","v":0.9,"u":"g"},
      {"d":"2010-12-08","v":0.8,"u":"g"},{"d":"2010-12-23","v":0.6,"u":"r"},
      {"d":"2011-01-08","v":0.7,"u":"g"},{"d":"2011-01-23","v":0.5,"u":"r"},
      {"d":"2011-02-08","v":0.9,"u":"g"},{"d":"2011-02-23","v":0.6,"u":"g"},
      {"d":"2011-03-08","v":1.0,"u":"r"},{"d":"2011-03-23","v":0.7,"u":"g"},
      {"d":"2011-04-08","v":0.6,"u":"r"},{"d":"2011-04-23","v":0.8,"u":"r"},
      {"d":"2011-05-08","v":1.1,"u":"r"},{"d":"2011-05-23","v":0.9,"u":"g"},
      {"d":"2011-06-08","v":0.8,"u":"r"},{"d":"2011-06-23","v":1.2,"u":"g"},
      {"d":"2011-07-08","v":0.9,"u":"g"},{"d":"2011-07-23","v":1.3,"u":"r"},
      {"d":"2011-08-08","v":2.3,"u":"r"},{"d":"2011-08-23","v":1.8,"u":"g"},
      {"d":"2011-09-08","v":1.2,"u":"g"},{"d":"2011-09-23","v":1.5,"u":"r"},
      {"d":"2011-10-08","v":2.0,"u":"g"},{"d":"2011-10-23","v":1.1,"u":"r"},
      {"d":"2011-11-08","v":1.4,"u":"g"},{"d":"2011-11-23","v":0.9,"u":"r"},
      {"d":"2011-12-08","v":2.2,"u":"g"},{"d":"2011-12-23","v":1.0,"u":"r"},
      {"d":"2012-01-08","v":0.9,"u":"r"},{"d":"2012-01-23","v":1.3,"u":"g"},
      {"d":"2012-02-08","v":1.1,"u":"g"},{"d":"2012-02-23","v":0.8,"u":"r"},
      {"d":"2012-03-08","v":0.7,"u":"g"},{"d":"2012-03-23","v":1.0,"u":"r"},
      {"d":"2012-04-08","v":1.2,"u":"r"},{"d":"2012-04-23","v":0.8,"u":"g"},
      {"d":"2012-05-08","v":1.5,"u":"r"},{"d":"2012-05-23","v":1.9,"u":"g"},
      {"d":"2012-06-08","v":1.3,"u":"r"},{"d":"2012-06-23","v":1.7,"u":"g"},
      {"d":"2012-07-08","v":1.0,"u":"g"},{"d":"2012-07-23","v":1.4,"u":"r"},
      {"d":"2012-08-08","v":0.9,"u":"g"},{"d":"2012-08-23","v":1.2,"u":"r"},
      {"d":"2012-09-08","v":1.6,"u":"g"},{"d":"2012-09-23","v":0.9,"u":"r"},
      {"d":"2012-10-08","v":1.1,"u":"r"},{"d":"2012-10-23","v":1.4,"u":"g"},
      {"d":"2012-11-08","v":5.5,"u":"g"},{"d":"2012-11-23","v":1.2,"u":"r"},
      {"d":"2012-12-08","v":0.9,"u":"g"},{"d":"2012-12-23","v":1.3,"u":"r"},
      {"d":"2013-01-08","v":0.6,"u":"g"},{"d":"2013-01-23","v":0.9,"u":"r"},
      {"d":"2013-02-08","v":1.0,"u":"g"},{"d":"2013-02-23","v":0.7,"u":"r"},
      {"d":"2013-03-08","v":0.8,"u":"r"},{"d":"2013-03-23","v":0.5,"u":"g"},
      {"d":"2013-04-08","v":1.1,"u":"r"},{"d":"2013-04-23","v":0.7,"u":"g"},
      {"d":"2013-05-08","v":0.6,"u":"g"},{"d":"2013-05-23","v":0.9,"u":"r"},
      {"d":"2013-06-08","v":0.7,"u":"r"},{"d":"2013-06-23","v":0.5,"u":"g"},
      {"d":"2013-07-08","v":0.9,"u":"g"},{"d":"2013-07-23","v":0.6,"u":"r"},
      {"d":"2013-08-08","v":0.8,"u":"r"},{"d":"2013-08-23","v":0.7,"u":"g"},
      {"d":"2013-09-08","v":1.0,"u":"g"},{"d":"2013-09-23","v":0.6,"u":"r"},
      {"d":"2013-10-08","v":0.7,"u":"g"},{"d":"2013-10-23","v":0.9,"u":"r"},
      {"d":"2013-11-08","v":1.2,"u":"r"},{"d":"2013-11-23","v":0.8,"u":"r"},
      {"d":"2013-12-08","v":1.0,"u":"g"},{"d":"2013-12-23","v":1.5,"u":"r"},
      {"d":"2014-01-08","v":1.8,"u":"r"},{"d":"2014-01-23","v":1.2,"u":"g"},
      {"d":"2014-02-08","v":2.1,"u":"g"},{"d":"2014-02-23","v":1.5,"u":"r"},
      {"d":"2014-03-08","v":1.0,"u":"r"},{"d":"2014-03-23","v":1.7,"u":"g"},
      {"d":"2014-04-08","v":1.3,"u":"g"},{"d":"2014-04-23","v":2.4,"u":"r"},
      {"d":"2014-05-08","v":1.1,"u":"g"},{"d":"2014-05-23","v":1.6,"u":"r"},
      {"d":"2014-06-08","v":3.2,"u":"g"},{"d":"2014-06-23","v":1.4,"u":"r"},
      {"d":"2014-07-08","v":1.8,"u":"g"},{"d":"2014-07-23","v":2.6,"u":"g"},
      {"d":"2014-08-08","v":1.5,"u":"r"},{"d":"2014-08-23","v":2.2,"u":"g"},
      {"d":"2014-09-08","v":5.7,"u":"g"},{"d":"2014-09-23","v":2.0,"u":"r"},
      {"d":"2014-10-08","v":3.1,"u":"r"},{"d":"2014-10-23","v":1.9,"u":"g"},
      {"d":"2014-11-08","v":2.5,"u":"r"},{"d":"2014-11-23","v":3.6,"u":"g"},
      {"d":"2014-12-08","v":2.8,"u":"g"},{"d":"2014-12-23","v":3.3,"u":"r"},
      {"d":"2015-01-08","v":4.2,"u":"g"},{"d":"2015-01-23","v":2.1,"u":"r"},
      {"d":"2015-02-08","v":6.6,"u":"r"},{"d":"2015-02-23","v":2.7,"u":"g"},
      {"d":"2015-03-08","v":1.9,"u":"r"},{"d":"2015-03-23","v":2.5,"u":"g"},
      {"d":"2015-04-08","v":2.2,"u":"r"},{"d":"2015-04-23","v":1.6,"u":"g"},
      {"d":"2015-05-08","v":2.6,"u":"g"},{"d":"2015-05-23","v":1.8,"u":"r"},
      {"d":"2015-06-08","v":1.5,"u":"r"},{"d":"2015-06-23","v":2.3,"u":"g"},
      {"d":"2015-07-08","v":4.6,"u":"r"},{"d":"2015-07-23","v":2.0,"u":"g"},
      {"d":"2015-08-08","v":2.9,"u":"r"},{"d":"2015-08-23","v":3.4,"u":"g"},
      {"d":"2015-09-08","v":2.1,"u":"g"},{"d":"2015-09-23","v":2.7,"u":"r"},
      {"d":"2015-10-08","v":1.8,"u":"r"},{"d":"2015-10-23","v":2.4,"u":"g"},
      {"d":"2015-11-08","v":3.0,"u":"g"},{"d":"2015-11-23","v":2.2,"u":"r"},
      {"d":"2015-12-08","v":2.6,"u":"r"},{"d":"2015-12-23","v":3.8,"u":"g"},
      {"d":"2016-01-08","v":6.1,"u":"r"},{"d":"2016-01-23","v":3.2,"u":"g"},
      {"d":"2016-02-08","v":4.8,"u":"g"},{"d":"2016-02-23","v":2.9,"u":"r"},
      {"d":"2016-03-08","v":2.4,"u":"g"},{"d":"2016-03-23","v":3.6,"u":"r"},
      {"d":"2016-04-08","v":2.1,"u":"r"},{"d":"2016-04-23","v":2.8,"u":"g"},
      {"d":"2016-05-08","v":7.3,"u":"r"},{"d":"2016-05-23","v":2.5,"u":"g"},
      {"d":"2016-06-08","v":2.0,"u":"g"},{"d":"2016-06-23","v":3.1,"u":"r"},
      {"d":"2016-07-08","v":2.7,"u":"r"},{"d":"2016-07-23","v":1.9,"u":"g"},
      {"d":"2016-08-08","v":3.9,"u":"r"},{"d":"2016-08-23","v":2.4,"u":"g"},
      {"d":"2016-09-08","v":2.2,"u":"g"},{"d":"2016-09-23","v":2.9,"u":"r"},
      {"d":"2016-10-08","v":5.3,"u":"r"},{"d":"2016-10-23","v":2.0,"u":"g"},
      {"d":"2016-11-08","v":1.8,"u":"r"},{"d":"2016-11-23","v":3.2,"u":"g"},
      {"d":"2016-12-08","v":2.6,"u":"g"},{"d":"2016-12-23","v":1.7,"u":"r"},
      {"d":"2017-01-08","v":2.1,"u":"r"},{"d":"2017-01-23","v":1.6,"u":"g"},
      {"d":"2017-02-08","v":1.9,"u":"g"},{"d":"2017-02-23","v":2.4,"u":"r"},
      {"d":"2017-03-08","v":3.1,"u":"r"},{"d":"2017-03-23","v":1.7,"u":"g"},
      {"d":"2017-04-08","v":2.3,"u":"g"},{"d":"2017-04-23","v":1.5,"u":"r"},
      {"d":"2017-05-08","v":1.8,"u":"r"},{"d":"2017-05-23","v":2.6,"u":"g"},
      {"d":"2017-06-08","v":5.0,"u":"r"},{"d":"2017-06-23","v":2.0,"u":"g"},
      {"d":"2017-07-08","v":1.6,"u":"g"},{"d":"2017-07-23","v":2.2,"u":"r"},
      {"d":"2017-08-08","v":1.9,"u":"r"},{"d":"2017-08-23","v":2.5,"u":"g"},
      {"d":"2017-09-08","v":1.4,"u":"r"},{"d":"2017-09-23","v":2.1,"u":"g"},
      {"d":"2017-10-08","v":12.3,"u":"r"},{"d":"2017-10-23","v":2.4,"u":"g"},
      {"d":"2017-11-08","v":1.8,"u":"g"},{"d":"2017-11-23","v":2.6,"u":"r"},
      {"d":"2017-12-08","v":2.2,"u":"r"},{"d":"2017-12-23","v":1.5,"u":"g"},
      {"d":"2018-01-08","v":1.7,"u":"g"},{"d":"2018-01-23","v":2.3,"u":"r"},
      {"d":"2018-02-08","v":2.8,"u":"r"},{"d":"2018-02-23","v":1.9,"u":"g"},
      {"d":"2018-03-08","v":1.6,"u":"g"},{"d":"2018-03-23","v":2.4,"u":"r"},
      {"d":"2018-04-08","v":2.0,"u":"g"},{"d":"2018-04-23","v":1.5,"u":"r"},
      {"d":"2018-05-08","v":2.5,"u":"g"},{"d":"2018-05-23","v":3.2,"u":"g"},
      {"d":"2018-06-08","v":10.1,"u":"g"},{"d":"2018-06-23","v":2.2,"u":"r"},
      {"d":"2018-07-08","v":1.9,"u":"r"},{"d":"2018-07-23","v":2.7,"u":"g"},
      {"d":"2018-08-08","v":1.5,"u":"g"},{"d":"2018-08-23","v":2.1,"u":"r"},
      {"d":"2018-09-08","v":2.3,"u":"g"},{"d":"2018-09-23","v":1.8,"u":"r"},
      {"d":"2018-10-08","v":1.7,"u":"r"},{"d":"2018-10-23","v":3.9,"u":"r"},
      {"d":"2018-11-08","v":2.6,"u":"r"},{"d":"2018-11-23","v":2.2,"u":"g"},
      {"d":"2018-12-08","v":4.4,"u":"r"},{"d":"2018-12-23","v":2.9,"u":"g"},
      {"d":"2019-01-08","v":2.1,"u":"g"},{"d":"2019-01-23","v":1.7,"u":"r"},
      {"d":"2019-02-08","v":1.6,"u":"g"},{"d":"2019-02-23","v":2.3,"u":"r"},
      {"d":"2019-03-08","v":1.9,"u":"r"},{"d":"2019-03-23","v":1.4,"u":"g"},
      {"d":"2019-04-08","v":2.2,"u":"g"},{"d":"2019-04-23","v":1.6,"u":"r"},
      {"d":"2019-05-08","v":1.8,"u":"r"},{"d":"2019-05-23","v":2.4,"u":"g"},
      {"d":"2019-06-08","v":2.6,"u":"r"},{"d":"2019-06-23","v":1.5,"u":"g"},
      {"d":"2019-07-08","v":3.6,"u":"r"},{"d":"2019-07-23","v":1.9,"u":"g"},
      {"d":"2019-08-08","v":2.3,"u":"r"},{"d":"2019-08-23","v":1.7,"u":"g"},
      {"d":"2019-09-08","v":4.5,"u":"r"},{"d":"2019-09-23","v":2.0,"u":"g"},
      {"d":"2019-10-08","v":20.6,"u":"g"},{"d":"2019-10-23","v":2.8,"u":"r"},
      {"d":"2019-11-08","v":1.9,"u":"g"},{"d":"2019-11-23","v":2.4,"u":"r"},
      {"d":"2019-12-08","v":1.6,"u":"g"},{"d":"2019-12-23","v":2.1,"u":"r"},
      {"d":"2020-01-08","v":2.7,"u":"r"},{"d":"2020-01-23","v":3.1,"u":"g"},
      {"d":"2020-02-08","v":5.3,"u":"g"},{"d":"2020-02-23","v":4.1,"u":"r"},
      {"d":"2020-03-08","v":4.6,"u":"g"},{"d":"2020-03-23","v":3.5,"u":"r"},
      {"d":"2020-04-08","v":2.9,"u":"g"},{"d":"2020-04-23","v":2.4,"u":"r"},
      {"d":"2020-05-08","v":2.2,"u":"g"},{"d":"2020-05-23","v":1.8,"u":"r"},
      {"d":"2020-06-08","v":2.6,"u":"g"},{"d":"2020-06-23","v":2.0,"u":"r"},
      {"d":"2020-07-08","v":1.7,"u":"r"},{"d":"2020-07-23","v":2.3,"u":"g"},
      {"d":"2020-08-08","v":1.9,"u":"g"},{"d":"2020-08-23","v":1.4,"u":"r"},
      {"d":"2020-09-08","v":2.4,"u":"r"},{"d":"2020-09-23","v":1.6,"u":"g"},
      {"d":"2020-10-08","v":1.5,"u":"r"},{"d":"2020-10-23","v":2.0,"u":"g"},
      {"d":"2020-11-08","v":2.8,"u":"g"},{"d":"2020-11-23","v":1.7,"u":"r"},
      {"d":"2020-12-08","v":2.1,"u":"g"},{"d":"2020-12-23","v":1.5,"u":"r"},
      {"d":"2021-01-08","v":1.8,"u":"g"},{"d":"2021-01-23","v":2.6,"u":"r"},
      {"d":"2021-02-08","v":2.2,"u":"g"},{"d":"2021-02-23","v":1.9,"u":"r"},
      {"d":"2021-03-08","v":4.4,"u":"g"},{"d":"2021-03-23","v":2.3,"u":"r"},
      {"d":"2021-04-08","v":1.6,"u":"r"},{"d":"2021-04-23","v":2.0,"u":"g"},
      {"d":"2021-05-08","v":2.5,"u":"g"},{"d":"2021-05-23","v":1.4,"u":"r"},
      {"d":"2021-06-08","v":1.8,"u":"g"},{"d":"2021-06-23","v":2.1,"u":"r"},
      {"d":"2021-07-08","v":2.7,"u":"r"},{"d":"2021-07-23","v":1.5,"u":"g"},
      {"d":"2021-08-08","v":1.9,"u":"r"},{"d":"2021-08-23","v":1.6,"u":"g"},
      {"d":"2021-09-08","v":1.4,"u":"g"},{"d":"2021-09-23","v":2.0,"u":"r"},
      {"d":"2021-10-08","v":1.7,"u":"g"},{"d":"2021-10-23","v":1.3,"u":"r"},
      {"d":"2021-11-08","v":2.3,"u":"r"},{"d":"2021-11-23","v":1.8,"u":"g"},
      {"d":"2021-12-08","v":1.5,"u":"g"},{"d":"2021-12-23","v":1.9,"u":"r"},
      {"d":"2022-01-08","v":1.6,"u":"g"},{"d":"2022-01-23","v":2.2,"u":"r"},
      {"d":"2022-02-08","v":2.0,"u":"g"},{"d":"2022-02-23","v":3.0,"u":"r"},
      {"d":"2022-03-08","v":2.6,"u":"g"},{"d":"2022-03-23","v":1.8,"u":"r"},
      {"d":"2022-04-08","v":1.5,"u":"r"},{"d":"2022-04-23","v":2.3,"u":"g"},
      {"d":"2022-05-08","v":5.5,"u":"g"},{"d":"2022-05-23","v":1.9,"u":"r"},
      {"d":"2022-06-08","v":2.4,"u":"r"},{"d":"2022-06-23","v":3.3,"u":"g"},
      {"d":"2022-07-08","v":2.8,"u":"r"},{"d":"2022-07-23","v":2.0,"u":"g"},
      {"d":"2022-08-08","v":1.7,"u":"r"},{"d":"2022-08-23","v":2.5,"u":"g"},
      {"d":"2022-09-08","v":2.1,"u":"r"},{"d":"2022-09-23","v":1.6,"u":"g"},
      {"d":"2022-10-08","v":1.9,"u":"g"},{"d":"2022-10-23","v":2.4,"u":"r"},
      {"d":"2022-11-08","v":5.3,"u":"r"},{"d":"2022-11-23","v":2.2,"u":"g"},
      {"d":"2022-12-08","v":1.8,"u":"g"},{"d":"2022-12-23","v":2.6,"u":"r"},
      {"d":"2023-01-08","v":2.0,"u":"g"},{"d":"2023-01-23","v":1.5,"u":"r"},
      {"d":"2023-02-08","v":1.7,"u":"g"},{"d":"2023-02-23","v":2.3,"u":"r"},
      {"d":"2023-03-08","v":2.6,"u":"r"},{"d":"2023-03-23","v":1.8,"u":"g"},
      {"d":"2023-04-08","v":1.4,"u":"r"},{"d":"2023-04-23","v":2.1,"u":"g"},
      {"d":"2023-05-08","v":2.2,"u":"r"},{"d":"2023-05-23","v":1.6,"u":"g"},
      {"d":"2023-06-08","v":1.5,"u":"g"},{"d":"2023-06-23","v":1.9,"u":"r"},
      {"d":"2023-07-08","v":2.4,"u":"g"},{"d":"2023-07-23","v":1.3,"u":"g"},
      {"d":"2023-08-08","v":1.8,"u":"g"},{"d":"2023-08-23","v":2.6,"u":"r"},
      {"d":"2023-09-08","v":2.9,"u":"g"},{"d":"2023-09-23","v":1.7,"u":"r"},
      {"d":"2023-10-08","v":2.5,"u":"r"},{"d":"2023-10-23","v":2.0,"u":"g"},
      {"d":"2023-11-08","v":1.6,"u":"r"},{"d":"2023-11-23","v":2.2,"u":"g"},
      {"d":"2023-12-08","v":1.9,"u":"r"},{"d":"2023-12-23","v":1.4,"u":"g"},
      {"d":"2024-01-08","v":1.5,"u":"g"},{"d":"2024-01-23","v":2.0,"u":"r"},
      {"d":"2024-02-08","v":1.8,"u":"r"},{"d":"2024-02-23","v":1.3,"u":"g"},
      {"d":"2024-03-08","v":2.1,"u":"g"},{"d":"2024-03-23","v":1.6,"u":"r"},
      {"d":"2024-04-08","v":1.9,"u":"g"},{"d":"2024-04-23","v":1.4,"u":"r"}
    ],
    "yrs": [
      {"d":"2009-08-18","t":"2009"},{"d":"2010-07-02","t":"2010"},{"d":"2011-07-02","t":"2011"},
      {"d":"2012-07-02","t":"2012"},{"d":"2013-07-02","t":"2013"},{"d":"2014-07-02","t":"2014"},
      {"d":"2015-07-02","t":"2015"},{"d":"2016-07-02","t":"2016"},{"d":"2017-07-02","t":"2017"},
      {"d":"2018-07-02","t":"2018"},{"d":"2019-07-02","t":"2019"},{"d":"2020-07-02","t":"2020"},
      {"d":"2021-07-02","t":"2021"},{"d":"2022-07-02","t":"2022"},{"d":"2023-07-02","t":"2023"},
      {"d":"2024-02-14","t":"2024"}
    ]
  },
  "vconcat": [
    {
      "width": 830, "height": 366,
      "title": {"text": "US:OIl", "anchor": "start", "fontSize": 12.5, "offset": -16, "dx": 8},
      "layer": [
        {
          "data": {"name": "p"},
          "mark": {"type": "rule", "color": "black", "strokeWidth": 2.2},
          "encoding": {
            "x": {"field": "d", "type": "temporal",
                  "scale": {"domain": [{"year": 2009, "month": 5, "date": 3, "utc": true}, {"year": 2024, "month": 5, "date": 4, "utc": true}], "range": [0, 773]},
                  "axis": {"values": [{"year": 2010, "month": 1, "date": 1, "utc": true},{"year": 2011, "month": 1, "date": 1, "utc": true},{"year": 2012, "month": 1, "date": 1, "utc": true},{"year": 2013, "month": 1, "date": 1, "utc": true},{"year": 2014, "month": 1, "date": 1, "utc": true},{"year": 2015, "month": 1, "date": 1, "utc": true},{"year": 2016, "month": 1, "date": 1, "utc": true},{"year": 2017, "month": 1, "date": 1, "utc": true},{"year": 2018, "month": 1, "date": 1, "utc": true},{"year": 2019, "month": 1, "date": 1, "utc": true},{"year": 2020, "month": 1, "date": 1, "utc": true},{"year": 2021, "month": 1, "date": 1, "utc": true},{"year": 2022, "month": 1, "date": 1, "utc": true},{"year": 2023, "month": 1, "date": 1, "utc": true},{"year": 2024, "month": 1, "date": 1, "utc": true}],
                           "tickCount": 40, "labels": false, "ticks": false, "domain": false, "grid": true}},
            "y": {"field": "l", "type": "quantitative",
                  "scale": {"domain": [0, 99.2], "nice": false},
                  "axis": {"orient": "right", "offset": -57, "values": [5,10,15,20,25,30,35,40,45,50,55,60,65,70,75,80,85,90,95], "tickCount": 40, "format": ".2f", "grid": true, "ticks": false, "domain": true, "domainColor": "black", "domainWidth": 2, "labelPadding": 6, "labelOverlap": false}},
            "y2": {"field": "h"}
          }
        },
        {
          "data": {"name": "p"},
          "mark": {"type": "tick", "orient": "horizontal", "color": "#ff0000", "size": 3, "thickness": 1.5},
          "encoding": {"x": {"field": "d", "type": "temporal"}, "y": {"field": "c", "type": "quantitative"}}
        },
        {
          "data": {"name": "m"},
          "mark": {"type": "line", "color": "#ff00ff", "strokeWidth": 1.5},
          "encoding": {"x": {"field": "d", "type": "temporal"}, "y": {"field": "a", "type": "quantitative"}}
        },
        {
          "data": {"name": "m"},
          "mark": {"type": "line", "color": "#0000ff", "strokeWidth": 1.5},
          "encoding": {"x": {"field": "d", "type": "temporal"}, "y": {"field": "b", "type": "quantitative"}}
        }
      ]
    },
    {
      "width": 773, "height": 106,
      "data": {"name": "v"},
      "title": {"text": "Volume", "anchor": "start", "fontSize": 12.5, "offset": -16, "dx": 8},
      "mark": {"type": "rule", "strokeWidth": 2},
      "encoding": {
        "x": {"field": "d", "type": "temporal",
              "scale": {"domain": [{"year": 2009, "month": 5, "date": 3, "utc": true}, {"year": 2024, "month": 5, "date": 4, "utc": true}]},
              "axis": {"values": [{"year": 2009, "month": 5, "date": 3, "utc": true},{"year": 2010, "month": 1, "date": 1, "utc": true},{"year": 2011, "month": 1, "date": 1, "utc": true},{"year": 2012, "month": 1, "date": 1, "utc": true},{"year": 2013, "month": 1, "date": 1, "utc": true},{"year": 2014, "month": 1, "date": 1, "utc": true},{"year": 2015, "month": 1, "date": 1, "utc": true},{"year": 2016, "month": 1, "date": 1, "utc": true},{"year": 2017, "month": 1, "date": 1, "utc": true},{"year": 2018, "month": 1, "date": 1, "utc": true},{"year": 2019, "month": 1, "date": 1, "utc": true},{"year": 2020, "month": 1, "date": 1, "utc": true},{"year": 2021, "month": 1, "date": 1, "utc": true},{"year": 2022, "month": 1, "date": 1, "utc": true},{"year": 2023, "month": 1, "date": 1, "utc": true},{"year": 2024, "month": 1, "date": 1, "utc": true},{"year": 2024, "month": 5, "date": 4, "utc": true}],
                       "tickCount": 40, "labels": false, "ticks": true, "tickSize": 16, "tickColor": "black", "tickWidth": 1, "domain": false, "grid": true}},
        "y": {"field": "v", "type": "quantitative",
              "scale": {"domain": [0, 24], "nice": false},
              "axis": {"orient": "right", "values": [6, 12, 18], "tickCount": 10, "labelExpr": "format(datum.value, '.1f') + ' M'", "grid": true, "ticks": false, "domain": false, "labelPadding": 6, "labelOverlap": false}},
        "y2": {"datum": 0},
        "color": {"field": "u", "type": "nominal", "scale": {"domain": ["r", "g"], "range": ["#ff0000", "#4cb848"]}, "legend": null}
      }
    },
    {
      "width": 773, "height": 13,
      "data": {"name": "yrs"},
      "mark": {"type": "text", "fontSize": 12.5, "color": "black", "font": "Liberation Sans"},
      "encoding": {
        "x": {"field": "d", "type": "temporal",
              "scale": {"domain": [{"year": 2009, "month": 5, "date": 3, "utc": true}, {"year": 2024, "month": 5, "date": 4, "utc": true}]},
              "axis": null},
        "text": {"field": "t"}
      }
    }
  ]
}
